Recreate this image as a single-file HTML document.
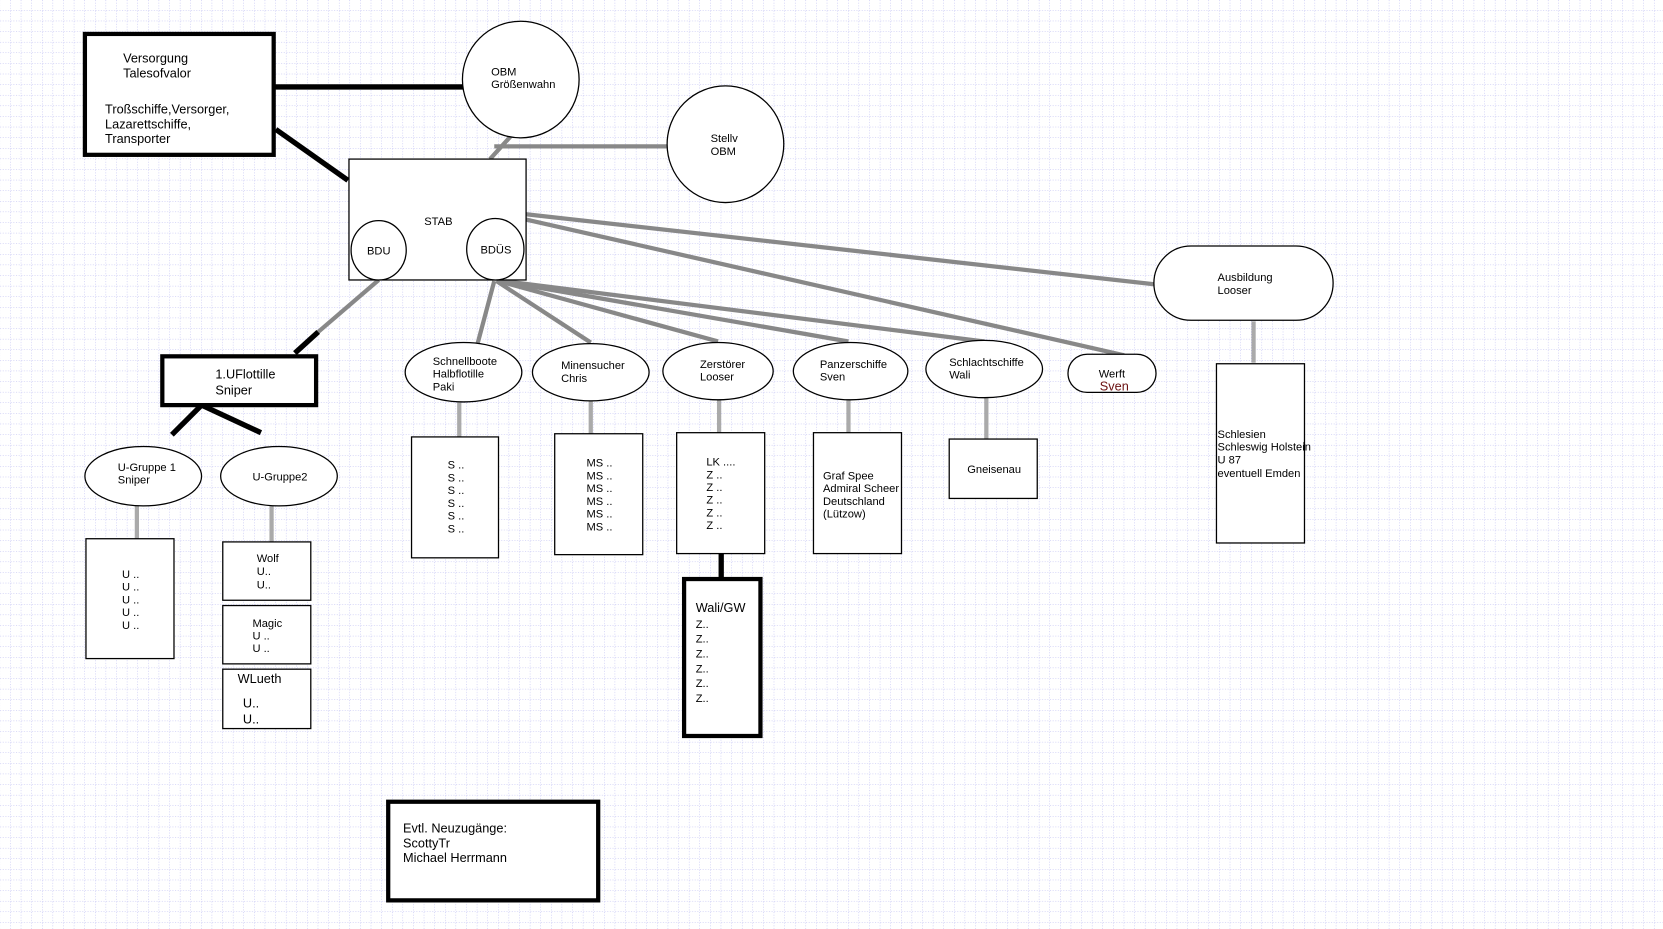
<!DOCTYPE html>
<html><head><meta charset="utf-8"><style>
html,body{margin:0;padding:0;background:#fff;}
svg{display:block;}
text{font-family:"Liberation Sans",sans-serif;font-size:10.5px;fill:#000;}
.b{font-size:12px;}
</style></head><body>
<svg width="1663" height="929" viewBox="0 0 1568 876" xmlns="http://www.w3.org/2000/svg">
<defs>
<pattern id="g" width="10" height="10" patternUnits="userSpaceOnUse">
<path d="M10 0V10M0 10H10" stroke="#b4b4f0" stroke-width="0.9" stroke-dasharray="1,1.5" fill="none"/>
</pattern>
</defs>
<rect width="1568" height="876" fill="#fff"/>
<rect width="1568" height="876" fill="url(#g)"/>

<g stroke="#888" stroke-width="4" fill="none">
<line x1="466" y1="138" x2="630" y2="138"/>
<line x1="482" y1="128" x2="462" y2="150"/>
<line x1="466" y1="265" x2="450" y2="325"/>
<line x1="468" y1="265" x2="557" y2="323"/>
<line x1="470" y1="265" x2="677" y2="322"/>
<line x1="472" y1="265" x2="800" y2="322"/>
<line x1="474" y1="265" x2="928" y2="322"/>
<line x1="496" y1="202" x2="1088" y2="268"/>
<line x1="496" y1="207" x2="1060" y2="335"/>
<line x1="300" y1="313" x2="357" y2="264"/>
</g>
<g stroke="#aaa" stroke-width="4">
<line x1="129" y1="477" x2="129" y2="508"/>
<line x1="256" y1="477" x2="256" y2="511"/>
<line x1="433" y1="379" x2="433" y2="412"/>
<line x1="557" y1="378" x2="557" y2="409"/>
<line x1="678" y1="377" x2="678" y2="408"/>
<line x1="800" y1="377" x2="800" y2="408"/>
<line x1="930" y1="375" x2="930" y2="414"/>
<line x1="1182" y1="303" x2="1182" y2="342"/>
</g>
<g stroke="#000" stroke-width="5" fill="none">
<line x1="258" y1="82" x2="437" y2="82"/>
<line x1="260" y1="122" x2="328" y2="170"/>
<line x1="278" y1="333" x2="300" y2="313"/>
<line x1="190" y1="382" x2="162" y2="410"/>
<line x1="190" y1="382" x2="246" y2="408"/>
<line x1="680" y1="522" x2="680" y2="546"/>
</g>

<g fill="#fff" stroke="#000" stroke-width="4">
<rect x="80" y="32" width="178" height="114"/>
<rect x="153" y="336" width="145" height="46"/>
<rect x="645" y="546" width="72" height="148"/>
<rect x="366" y="756" width="198" height="93"/>
</g>
<g fill="#fff" stroke="#000" stroke-width="1.2">
<circle cx="491" cy="75" r="55"/>
<circle cx="684" cy="136" r="55"/>
<rect x="329" y="150" width="167" height="114"/>
<ellipse cx="357" cy="236" rx="26" ry="28"/>
<ellipse cx="467" cy="235" rx="27" ry="29"/>
<ellipse cx="135" cy="449" rx="55" ry="28"/>
<ellipse cx="263" cy="449" rx="55" ry="28"/>
<ellipse cx="437" cy="351" rx="55" ry="28"/>
<ellipse cx="557" cy="351" rx="55" ry="27"/>
<ellipse cx="677" cy="350" rx="52" ry="27"/>
<ellipse cx="802" cy="350" rx="54" ry="27"/>
<ellipse cx="928" cy="348" rx="55" ry="27"/>
<rect x="1007" y="334" width="83" height="36" rx="18"/>
<rect x="1088" y="232" width="169" height="70" rx="35"/>
<rect x="81" y="508" width="83" height="113"/>
<rect x="210" y="511" width="83" height="55"/>
<rect x="210" y="571" width="83" height="55"/>
<rect x="210" y="631" width="83" height="56"/>
<rect x="388" y="412" width="82" height="114"/>
<rect x="523" y="409" width="83" height="114"/>
<rect x="638" y="408" width="83" height="114"/>
<rect x="767" y="408" width="83" height="114"/>
<rect x="895" y="414" width="83" height="56"/>
<rect x="1147" y="343" width="83" height="169"/>
</g>

<text class="b" x="116" y="59">Versorgung</text>
<text class="b" x="116" y="73">Talesofvalor</text>
<text class="b" x="99" y="107">Troßschiffe,Versorger,</text>
<text class="b" x="99" y="121">Lazarettschiffe,</text>
<text class="b" x="99" y="135">Transporter</text>
<text x="463" y="71">OBM</text><text x="463" y="83">Größenwahn</text>
<text x="670" y="134">Stellv</text><text x="670" y="146">OBM</text>
<text x="400" y="212">STAB</text>
<text x="346" y="240">BDU</text>
<text x="453" y="239">BDÜS</text>
<text class="b" x="203" y="357">1.UFlottille</text>
<text class="b" x="203" y="372">Sniper</text>
<text x="111" y="444">U-Gruppe 1</text><text x="111" y="456">Sniper</text>
<text x="238" y="453">U-Gruppe2</text>
<text x="115" y="545">U ..</text><text x="115" y="557">U ..</text><text x="115" y="569">U ..</text><text x="115" y="581">U ..</text><text x="115" y="593">U ..</text>
<text x="242" y="530">Wolf</text><text x="242" y="542">U..</text><text x="242" y="555">U..</text>
<text x="238" y="591">Magic</text><text x="238" y="603">U ..</text><text x="238" y="615">U ..</text>
<text class="b" x="224" y="644">WLueth</text><text class="b" x="229" y="667">U..</text><text class="b" x="229" y="682">U..</text>
<text x="408" y="344">Schnellboote</text><text x="408" y="356">Halbflotille</text><text x="408" y="368">Paki</text>
<text x="422" y="442">S ..</text><text x="422" y="454">S ..</text><text x="422" y="466">S ..</text><text x="422" y="478">S ..</text><text x="422" y="490">S ..</text><text x="422" y="502">S ..</text>
<text x="529" y="348">Minensucher</text><text x="529" y="360">Chris</text>
<text x="553" y="440">MS ..</text><text x="553" y="452">MS ..</text><text x="553" y="464">MS ..</text><text x="553" y="476">MS ..</text><text x="553" y="488">MS ..</text><text x="553" y="500">MS ..</text>
<text x="660" y="347">Zerstörer</text><text x="660" y="359">Looser</text>
<text x="666" y="439">LK ....</text><text x="666" y="451">Z ..</text><text x="666" y="463">Z ..</text><text x="666" y="475">Z ..</text><text x="666" y="487">Z ..</text><text x="666" y="499">Z ..</text>
<text class="b" x="656" y="577">Wali/GW</text>
<text x="656" y="592">Z..</text><text x="656" y="606">Z..</text><text x="656" y="620">Z..</text><text x="656" y="634">Z..</text><text x="656" y="648">Z..</text><text x="656" y="662">Z..</text>
<text x="773" y="347">Panzerschiffe</text><text x="773" y="359">Sven</text>
<text x="776" y="452">Graf Spee</text><text x="776" y="464">Admiral Scheer</text><text x="776" y="476">Deutschland</text><text x="776" y="488">(Lützow)</text>
<text x="895" y="345">Schlachtschiffe</text><text x="895" y="357">Wali</text>
<text x="912" y="446">Gneisenau</text>
<text x="1036" y="356">Werft</text><text class="b" x="1037" y="368" style="fill:#6b1010">Sven</text>
<text x="1148" y="265">Ausbildung</text><text x="1148" y="277">Looser</text>
<text x="1148" y="413">Schlesien</text><text x="1148" y="425">Schleswig Holstein</text><text x="1148" y="437">U 87</text><text x="1148" y="450">eventuell Emden</text>
<text class="b" x="380" y="785">Evtl. Neuzugänge:</text>
<text class="b" x="380" y="799">ScottyTr</text>
<text class="b" x="380" y="813">Michael Herrmann</text>
</svg>
</body></html>
